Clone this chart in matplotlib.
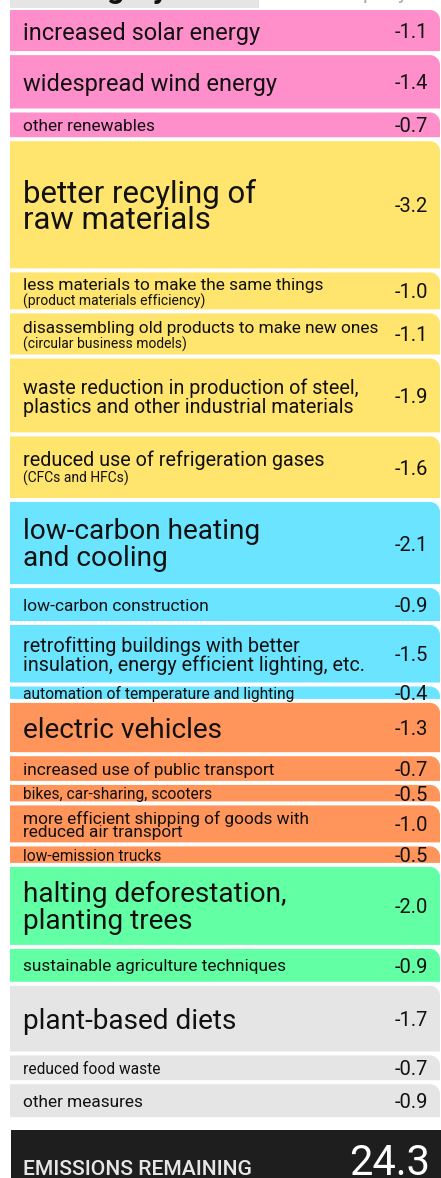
import matplotlib.pyplot as plt
from matplotlib.path import Path
from matplotlib.patches import PathPatch, Rectangle

# data
labels = [
    "increased solar energy",
    "widespread wind energy",
    "other renewables",
    "better recyling of\nraw materials",
    "less materials to make the same things",
    "disassembling old products to make new ones",
    "waste reduction in production of steel,\nplastics and other industrial materials",
    "reduced use of refrigeration gases",
    "low-carbon heating\nand cooling",
    "low-carbon construction",
    "retrofitting buildings with better\ninsulation, energy efficient lighting, etc.",
    "automation of temperature and lighting",
    "electric vehicles",
    "increased use of public transport",
    "bikes, car-sharing, scooters",
    "more efficient shipping of goods with\nreduced air transport",
    "low-emission trucks",
    "halting deforestation,\nplanting trees",
    "sustainable agriculture techniques",
    "plant-based diets",
    "reduced food waste",
    "other measures",
]
notes = {
    4: "(product materials efficiency)",
    5: "(circular business models)",
    7: "(CFCs and HFCs)",
}
values = [1.1, 1.4, 0.7,
          3.2, 1.0, 1.1, 1.9, 1.6,
          2.1, 0.9, 1.5, 0.4,
          1.3, 0.7, 0.5, 1.0, 0.5,
          2.0, 0.9,
          1.7, 0.7, 0.9]
groups = (["energy"] * 3 + ["materials"] * 5 + ["buildings"] * 4
          + ["transport"] * 5 + ["land"] * 2 + ["food"] * 3)
remaining = 24.3

# styles
colors = {"energy": "#FF8FCB", "materials": "#FFE46E", "buildings": "#6BE4FF",
          "transport": "#FF955A", "land": "#63FFA5", "food": "#E5E5E5"}
tier = ["m", "m", "s", "xl", "s", "s", "s+", "s+", "l", "s", "s+", "xs",
        "l", "s", "xs", "s", "xs", "l", "s", "l", "xs", "s"]
tier_pt = {"xl": 22.4, "l": 20.2, "m": 17.0, "s+": 14.2, "s": 12.45, "xs": 11.2}
tier_ls = {"xl": 0.885, "l": 1.03, "m": 1.0, "s+": 1.0, "s": 0.82, "xs": 0.9}

label_font = ["Roboto", "DejaVu Sans"]
num_font = ["Roboto", "DejaVu Sans"]

W, H = 441, 1178
k = 41.0          # pixels per unit
top = 10          # px above first block
gap = 4 / k

fig = plt.figure(figsize=(W / 100, H / 100), dpi=100)
ax = fig.add_axes([0, 0, 1, 1])
ax.set_xlim(0, W)
ax.set_ylim((H - top) / k, -top / k)
ax.axis("off")


def block(x0, x1, y0, y1, color, r=10):
    ry = r / k
    c = 0.5523
    verts = [(x0, y1), (x0, y0), (x1 - r, y0),
             (x1 - r + c * r, y0), (x1, y0 + ry - c * ry), (x1, y0 + ry),
             (x1, y1), (x0, y1)]
    codes = [Path.MOVETO, Path.LINETO, Path.LINETO,
             Path.CURVE4, Path.CURVE4, Path.CURVE4,
             Path.LINETO, Path.CLOSEPOLY]
    ax.add_patch(PathPatch(Path(verts, codes), facecolor=color, edgecolor="none"))


# header remnants
ax.add_patch(Rectangle((10, -top / k - 1), 249, 1 + 8 / k, facecolor="#E5E5E5", edgecolor="none"))
ax.text(45, -(top + 1.5) / k, "Category", fontsize=22, fontweight="bold",
        family=label_font, color="#111111", va="baseline", ha="left")
ax.text(363, -(top + 1) / k, "per year", fontsize=15, family=label_font,
        color="#AAAAAA", va="baseline", ha="left")

cum = 0.0
for i, (lab, v, g) in enumerate(zip(labels, values, groups)):
    y0, y1 = cum, cum + v - gap
    block(10, 440, y0, y1, colors[g])
    mid = (y0 + y1) / 2
    fs = tier_pt[tier[i]]
    if i in notes:
        ax.text(23, mid - 1 / k, lab, fontsize=fs, family=label_font,
                color="#111111", va="baseline", ha="left")
        ax.text(23, mid + 3 / k, notes[i], fontsize=10, family=label_font,
                color="#111111", va="top", ha="left")
    elif "\n" in lab:
        ax.text(23, mid + 2 / k, lab, fontsize=fs, family=label_font, color="#111111",
                va="center", ha="left", linespacing=tier_ls[tier[i]])
    else:
        ax.text(23, mid, lab, fontsize=fs, family=label_font, color="#111111",
                va="center_baseline", ha="left")
    ax.text(428, mid, f"-{v:.1f}", fontsize=14.5, family=num_font,
            color="#111111", va="center_baseline", ha="right")
    cum += v

# remaining emissions bar
dark_top = cum + 9 / k
ax.add_patch(Rectangle((11, dark_top), W, 2, facecolor="#1E1E1E", edgecolor="none"))
ax.text(23, (1175 - top) / k, "EMISSIONS REMAINING", fontsize=15.2,
        fontweight="medium", family=label_font, color="#E6E6E6",
        va="baseline", ha="left")
ax.text(430, (1175 - top) / k, f"{remaining:.1f}", fontsize=30,
        family=num_font, color="#FFFFFF", va="baseline", ha="right")

fig.savefig("out.png", dpi=100, facecolor="white")
